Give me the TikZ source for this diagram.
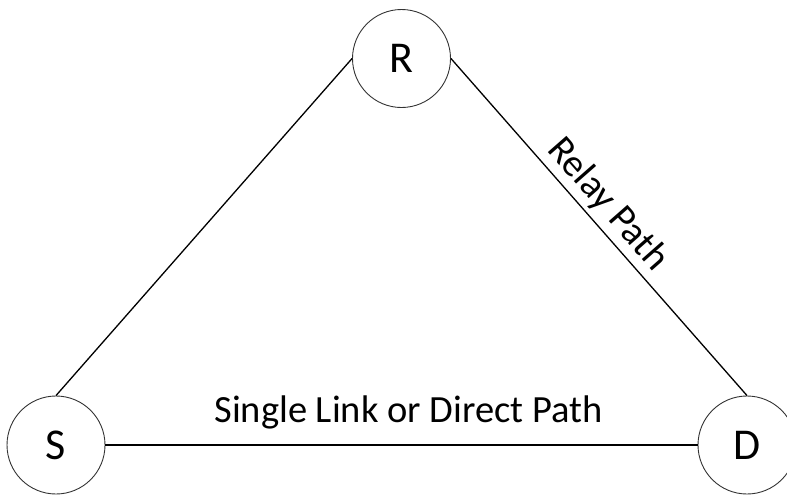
\documentclass[tikz,border=0pt]{standalone}
\usepackage{fontspec}
\setmainfont{Carlito}
\usetikzlibrary{calc}

\begin{document}
\begin{tikzpicture}[x=1pt,y=-1pt,
		station/.style={circle,draw=black!80,line width=0.9pt,minimum size=98pt,inner sep=0pt,font=\fontsize{44}{48}\selectfont},
		link/.style={line width=1.3pt},
		pathlabel/.style={font=\fontsize{38.5}{44}\selectfont}]
	\useasboundingbox (0,0) rectangle (787,499);

	\node[station] (R) at (401.5,58.5) {R};
	\node[station] (S) at (56,445) {S};
	\node[station] (D) at (747,445) {D};

	\draw[link] (S.north) -- (R.west);
	\draw[link] (R.east) -- node[pathlabel,sloped,above=1pt,pos=0.475] {Relay Path} (D.north);
	\draw[link] (S.east) -- node[pathlabel,above=12pt,midway,xshift=7pt] {Single Link or Direct Path} (D.west);
\end{tikzpicture}
\end{document}
